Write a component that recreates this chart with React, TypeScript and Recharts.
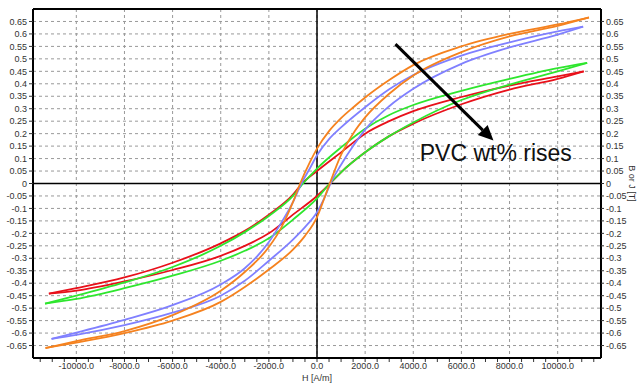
import {
  LineChart,
  Line,
  XAxis,
  YAxis,
  CartesianGrid,
  ReferenceLine,
  ReferenceDot,
} from 'recharts';

// B-H loops, [H (A/m), B (T)]
// "up" = descending branch (upper), "down" = ascending branch (lower)
const orangeUp: [number, number][] = [
  [-11280, -0.66], [-10000, -0.632], [-8000, -0.592], [-6000, -0.528], [-4000, -0.43],
  [-3000, -0.355], [-2000, -0.255], [-1500, -0.18], [-1000, -0.075], [-700, 0],
  [-300, 0.085], [0, 0.14], [500, 0.21], [1000, 0.262], [1500, 0.305], [2000, 0.345],
  [3000, 0.415], [4000, 0.475], [6000, 0.55], [8000, 0.6], [10000, 0.638], [11300, 0.666],
];
const orangeDown: [number, number][] = [
  [-11280, -0.66], [-10000, -0.638], [-8000, -0.6], [-6000, -0.55], [-4000, -0.475],
  [-3000, -0.415], [-2000, -0.345], [-1000, -0.265], [-500, -0.21], [0, -0.135],
  [300, -0.06], [530, 0], [1000, 0.115], [1500, 0.2], [2000, 0.265], [3000, 0.36],
  [4000, 0.433], [6000, 0.527], [8000, 0.59], [10000, 0.632], [11300, 0.666],
];
const blueUp: [number, number][] = [
  [-11030, -0.623], [-10000, -0.598], [-8000, -0.547], [-6000, -0.488], [-4000, -0.405],
  [-3000, -0.34], [-2000, -0.235], [-1500, -0.16], [-1000, -0.075], [-650, 0],
  [-300, 0.06], [0, 0.113], [500, 0.178], [1000, 0.225], [2000, 0.306], [3000, 0.378],
  [4000, 0.435], [6000, 0.513], [8000, 0.566], [10000, 0.61], [11058, 0.629],
];
const blueDown: [number, number][] = [
  [-11030, -0.623], [-10000, -0.607], [-8000, -0.568], [-6000, -0.518], [-4000, -0.45],
  [-3000, -0.39], [-2000, -0.31], [-1000, -0.225], [-500, -0.175], [0, -0.115],
  [300, -0.06], [560, 0], [1000, 0.075], [1500, 0.15], [2000, 0.216], [3000, 0.31],
  [4000, 0.38], [6000, 0.48], [8000, 0.546], [10000, 0.597], [11058, 0.629],
];
const greenUp: [number, number][] = [
  [-11300, -0.482], [-10000, -0.45], [-8000, -0.397], [-6000, -0.335], [-4000, -0.25],
  [-3000, -0.195], [-2000, -0.13], [-1000, -0.05], [-580, 0], [0, 0.06],
  [1000, 0.145], [2000, 0.22], [3000, 0.275], [4000, 0.315], [6000, 0.372],
  [8000, 0.42], [10000, 0.463], [11225, 0.484],
];
const greenDown: [number, number][] = [
  [-11300, -0.482], [-10000, -0.463], [-8000, -0.42], [-6000, -0.37], [-4000, -0.31],
  [-3000, -0.27], [-2000, -0.22], [-1000, -0.145], [0, -0.06], [530, 0],
  [1000, 0.045], [2000, 0.125], [3000, 0.19], [4000, 0.245], [6000, 0.335],
  [8000, 0.397], [10000, 0.45], [11225, 0.484],
];
const redUp: [number, number][] = [
  [-11140, -0.442], [-10000, -0.42], [-8000, -0.377], [-6000, -0.318], [-4000, -0.24],
  [-3000, -0.19], [-2000, -0.125], [-1000, -0.045], [-620, 0], [0, 0.05],
  [1000, 0.125], [2000, 0.2], [3000, 0.25], [4000, 0.29], [6000, 0.347],
  [8000, 0.393], [10000, 0.43], [11083, 0.45],
];
const redDown: [number, number][] = [
  [-11140, -0.442], [-10000, -0.43], [-8000, -0.393], [-6000, -0.347], [-4000, -0.29],
  [-3000, -0.25], [-2000, -0.2], [-1000, -0.125], [0, -0.05], [550, 0],
  [1000, 0.045], [2000, 0.125], [3000, 0.19], [4000, 0.24], [6000, 0.318],
  [8000, 0.377], [10000, 0.42], [11083, 0.45],
];

const xLabels = [-10000, -8000, -6000, -4000, -2000, 0, 2000, 4000, 6000, 8000, 10000];
const yTicks = [
  -0.65, -0.6, -0.55, -0.5, -0.45, -0.4, -0.35, -0.3, -0.25, -0.2, -0.15, -0.1, -0.05, 0,
  0.05, 0.1, 0.15, 0.2, 0.25, 0.3, 0.35, 0.4, 0.45, 0.5, 0.55, 0.6, 0.65,
];
// minor ticks every 500 A/m
const xTicks = Array.from({ length: 47 }, (_, i) => -11500 + i * 500);

const arrowFrom = { x: 3260, y: 0.559 };
const arrowTo = { x: 7330, y: 0.172 };
const note = { x: 4270, y: 0.09, text: 'PVC wt% rises' };

const series = [
  { key: 'redUp', pts: redUp, color: '#e8101a' },
  { key: 'redDown', pts: redDown, color: '#e8101a' },
  { key: 'greenUp', pts: greenUp, color: '#2ee62e' },
  { key: 'greenDown', pts: greenDown, color: '#2ee62e' },
  { key: 'blueUp', pts: blueUp, color: '#8080ff' },
  { key: 'blueDown', pts: blueDown, color: '#8080ff' },
  { key: 'orangeUp', pts: orangeUp, color: '#f5821f' },
  { key: 'orangeDown', pts: orangeDown, color: '#f5821f' },
];

const fmtY = (v: number) => String(Number(v.toFixed(2)));

function XTick({ x, y, payload }: any) {
  const v = payload.value as number;
  return (
    <g>
      <line x1={x} x2={x} y1={y + 1} y2={y + 4} stroke="#333" />
      {xLabels.includes(v) && (
        <text x={x} y={y + 11} textAnchor="middle" fontSize={9} fill="#333">
          {v.toFixed(1)}
        </text>
      )}
    </g>
  );
}

function XTitle({ viewBox }: any) {
  const { x, y, width } = viewBox;
  return (
    <text x={x + width / 2} y={y + 23} textAnchor="middle" fontSize={9} fill="#333">
      H [A/m]
    </text>
  );
}

function RightTitle({ viewBox }: any) {
  const { x, y, width, height } = viewBox;
  const cx = x + width - 9;
  const cy = y + height / 2;
  return (
    <text x={cx} y={cy} transform={`rotate(90 ${cx} ${cy})`} textAnchor="middle" fontSize={9} fill="#333">
      B or J [T]
    </text>
  );
}

function Arrow({ x1, y1, x2, y2 }: any) {
  const a = Math.atan2(y2 - y1, x2 - x1);
  const len = 15;
  const half = 7;
  const bx = x2 - len * Math.cos(a);
  const by = y2 - len * Math.sin(a);
  const px = half * Math.sin(a);
  const py = half * Math.cos(a);
  return (
    <g>
      <line x1={x1} y1={y1} x2={bx} y2={by} stroke="#000" strokeWidth={3} />
      <polygon points={`${x2},${y2} ${bx + px},${by - py} ${bx - px},${by + py}`} fill="#000" />
    </g>
  );
}

function NoteText({ cx, cy }: any) {
  return (
    <text x={cx} y={cy} fontSize={23} fill="#111">
      {note.text}
    </text>
  );
}

export default function App() {
  return (
    <div style={{ position: 'absolute', left: 0, top: 0, width: 638, height: 387, background: '#fff' }}>
      <LineChart
        width={638}
        height={387}
        margin={{ top: 9, right: 0, bottom: 0, left: 0 }}
        style={{ fontFamily: 'Arial, "Liberation Sans", sans-serif' }}
      >
        <CartesianGrid stroke="#999" strokeDasharray="3 3" verticalValues={xLabels} />
        <XAxis
          dataKey="h"
          type="number"
          domain={[-11800, 11800]}
          allowDataOverflow
          ticks={xTicks}
          interval={0}
          tickSize={0}
          tickMargin={0}
          tickLine={false}
          tick={<XTick />}
          height={29}
          axisLine={{ stroke: '#000', strokeWidth: 2 }}
          label={<XTitle />}
        />
        <YAxis
          type="number"
          domain={[-0.7, 0.7]}
          allowDataOverflow
          ticks={yTicks}
          interval={0}
          width={33}
          tickSize={4}
          tickMargin={2}
          tickFormatter={fmtY}
          tick={{ fontSize: 9, fill: '#333' }}
          tickLine={{ stroke: '#333' }}
          axisLine={{ stroke: '#000', strokeWidth: 2 }}
        />
        <YAxis
          yAxisId="right"
          orientation="right"
          type="number"
          domain={[-0.7, 0.7]}
          allowDataOverflow
          ticks={yTicks}
          interval={0}
          width={37}
          tickSize={3}
          tickMargin={2}
          tickFormatter={fmtY}
          tick={{ fontSize: 9, fill: '#333' }}
          tickLine={{ stroke: '#333' }}
          axisLine={{ stroke: '#000', strokeWidth: 2 }}
          label={<RightTitle />}
        />
        <ReferenceLine y={0.7} stroke="#000" strokeWidth={2} />
        <ReferenceLine x={0} stroke="#000" strokeWidth={1.5} />
        <ReferenceLine y={0} stroke="#000" strokeWidth={1.5} />
        {series.map((s) => (
          <Line
            key={s.key}
            data={s.pts.map(([h, b]) => ({ h, b }))}
            dataKey="b"
            type="monotone"
            stroke={s.color}
            strokeWidth={1.8}
            dot={false}
            isAnimationActive={false}
          />
        ))}
        <ReferenceLine segment={[arrowFrom, arrowTo]} shape={<Arrow />} ifOverflow="visible" />
        <ReferenceDot x={note.x} y={note.y} r={0} shape={<NoteText />} ifOverflow="visible" />
      </LineChart>
    </div>
  );
}
